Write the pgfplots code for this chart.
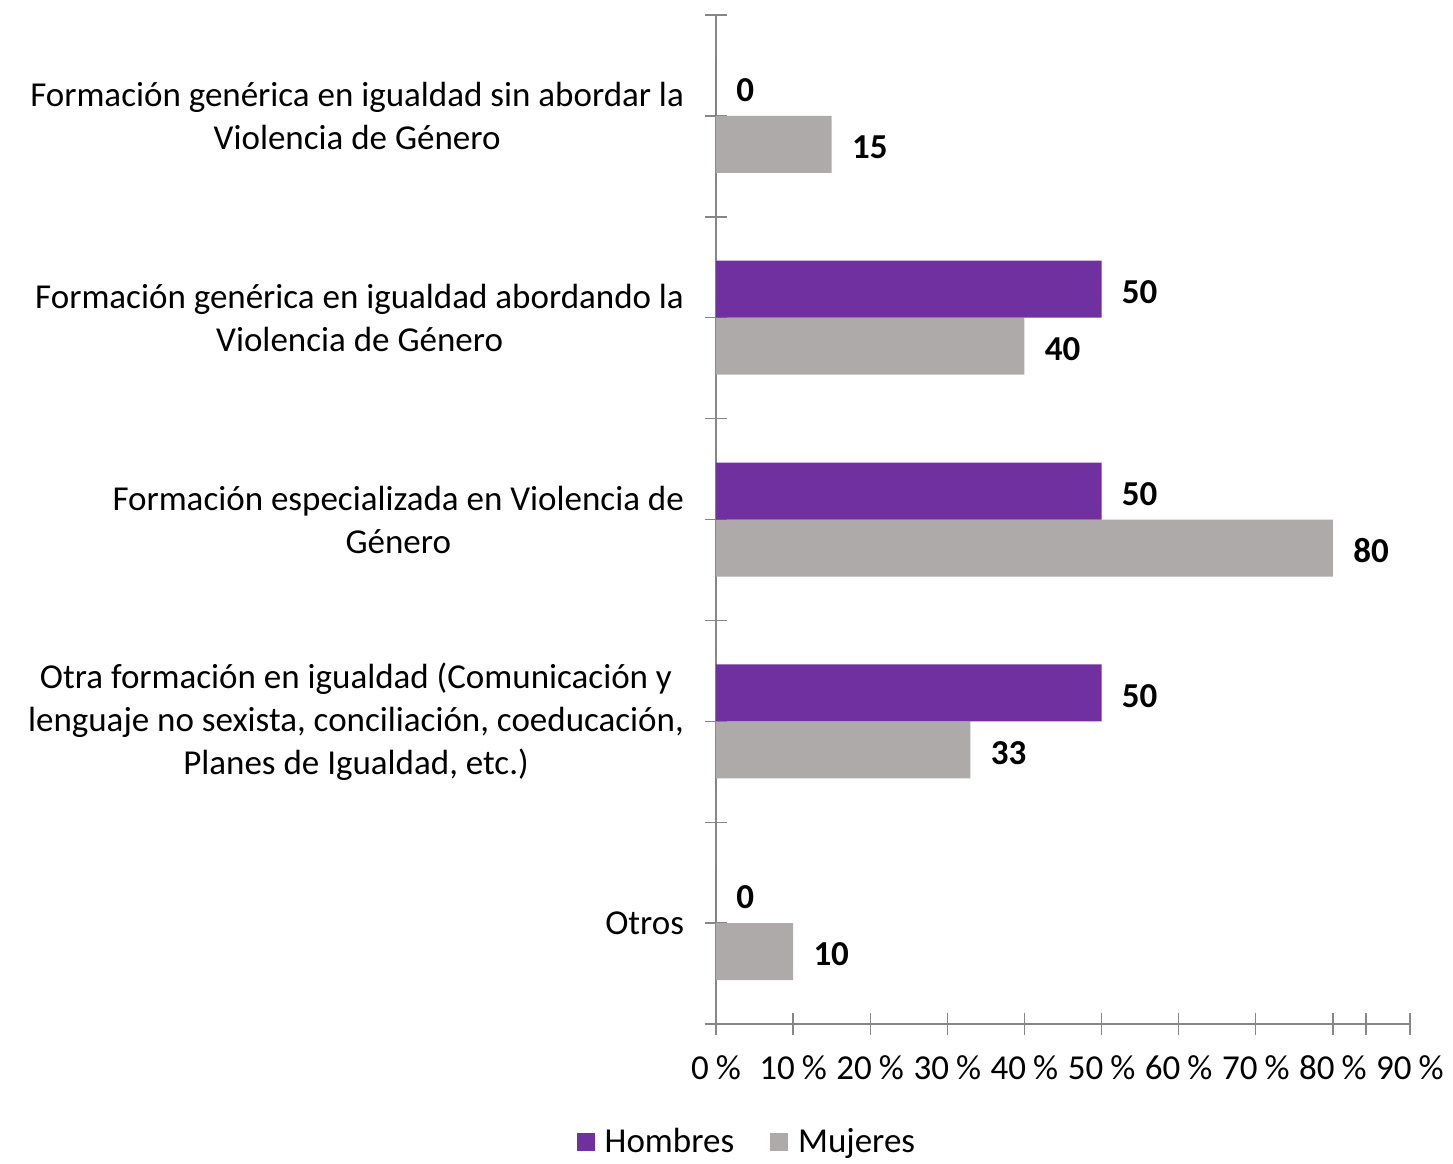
\documentclass[border=0pt]{standalone}
\usepackage{pgfplots}
\pgfplotsset{compat=1.18}
\usepackage{fontspec}
\setmainfont{Carlito}
\definecolor{hom}{HTML}{7030A0}
\definecolor{muj}{HTML}{AEAAAA}
\definecolor{axg}{HTML}{868686}
\newcommand{\lblfont}{\fontsize{17.5bp}{21.5bp}\selectfont}
\begin{document}
\begin{tikzpicture}
\begin{axis}[
  scale only axis, width=347bp, height=504.5bp,
  xbar=0pt, bar width=28.5bp,
  xmin=0, xmax=90, ymin=-0.5, ymax=4.5,
  axis lines=left, axis line style={axg,-, line width=0.7bp},
  tick style={axg, line width=0.7bp},
  major tick length=11bp, tick align=center,
  xtick={0,10,...,90},
  extra x ticks={84.3}, extra x tick labels={},
  xticklabel={\pgfmathprintnumber[assume math mode=true]{\tick}\hspace{0.2em}\%},
  xticklabel style={font=\lblfont, yshift=-7bp},
  ytick={0,1,2,3,4},
  yticklabels={{Otros},
    {Otra formación en igualdad (Comunicación y\\lenguaje no sexista, conciliación, coeducación,\\Planes de Igualdad, etc.)},
    {Formación especializada en Violencia de\\Género},
    {Formación genérica en igualdad abordando la\\Violencia de Género},
    {Formación genérica en igualdad sin abordar la\\Violencia de Género}},
  yticklabel style={font=\lblfont, align=center, xshift=-7bp},
  extra y ticks={-0.5,0.5,1.5,2.5,3.5,4.5}, extra y tick labels={},
  point meta=x,
  nodes near coords={\pgfmathprintnumber[assume math mode=true]{\pgfplotspointmeta}},
  every node near coord/.append style={font=\lblfont\bfseries, anchor=west, inner sep=0pt, xshift=10bp, yshift=-1.5bp, text=black},
  clip=false,
  reverse legend,
  legend style={at={(0.046,-0.117)}, anchor=center, draw=none, fill=none,
    legend columns=2, font=\lblfont,
    /tikz/every odd column/.append style={column sep=3bp},
    /tikz/every even column/.append style={column sep=16bp}},
  legend image code/.code={\fill[#1] (0bp,-4.5bp) rectangle (9bp,4.5bp);},
]
\addplot[fill=muj, draw=none] coordinates {(15,4) (40,3) (80,2) (33,1) (10,0)};
\addlegendentry{Mujeres}
\addplot[fill=hom, draw=none] coordinates {(0,4) (50,3) (50,2) (50,1) (0,0)};
\addlegendentry{Hombres}
\end{axis}
\path (current axis.south west) ++(-358bp,-69bp) rectangle ++(726.5bp,581bp);
\end{tikzpicture}
\end{document}
